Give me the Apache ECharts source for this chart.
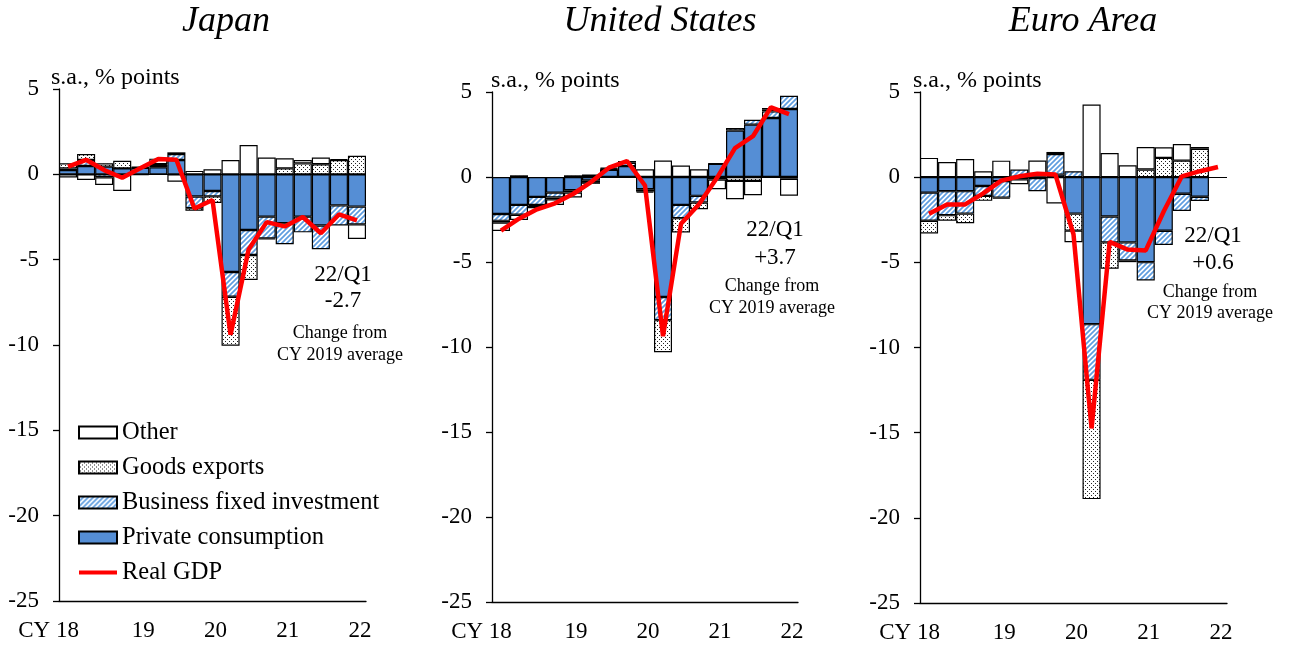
<!DOCTYPE html>
<html><head><meta charset="utf-8">
<script src="https://cdn.jsdelivr.net/npm/echarts@6/dist/echarts.min.js"></script>
<style>html,body{margin:0;padding:0;background:#fff}#c{width:1290px;height:648px}</style>
</head><body><div id="c"></div>
<script>
// ---------- DATA ----------
const quarters = ['18Q1','18Q2','18Q3','18Q4','19Q1','19Q2','19Q3','19Q4','20Q1','20Q2','20Q3','20Q4','21Q1','21Q2','21Q3','21Q4','22Q1'];
const yearLabels = ['CY 18','19','20','21','22'];   // shown at each Q1
const yTicks = [5, 0, -5, -10, -15, -20, -25];

// Japan
const jpConsumption = [0.25, 0.49, 0.45, 0.35, 0.38, 0.41, 0.84, -1.3, -0.98, -5.72, -3.26, -2.48, -2.87, -2.48, -3.0, -1.82, -1.89];
const jpInvestment  = [0.1, 0.35, -0.17, 0.0, 0.03, 0.14, 0.35, -0.68, -0.31, -1.45, -1.47, -1.27, -1.23, -0.92, -1.39, -1.18, -1.04];
const jpExports     = [0.3, 0.35, 0.2, 0.45, 0.04, 0.05, 0.1, -0.16, -0.39, -2.87, -1.46, -0.06, 0.35, 0.64, 0.59, 0.84, 1.09];
const jpOther       = [-0.18, -0.33, -0.45, -0.98, -0.05, 0.32, -0.43, 0.2, 0.3, 0.84, 1.72, 0.98, 0.59, 0.2, 0.39, 0.04, -0.86];
const jpGDP         = [0.45, 0.85, 0.25, -0.2, 0.35, 0.9, 0.85, -2.0, -1.5, -9.4, -4.4, -2.8, -3.05, -2.5, -3.45, -2.35, -2.7];

// United States
const usConsumption = [-2.18, -1.64, -1.17, -0.92, -0.78, -0.2, 0.42, 0.64, -0.72, -7.06, -1.64, -1.11, 0.78, 2.73, 3.08, 3.47, 4.0];
const usInvestment  = [-0.4, -0.58, -0.47, -0.29, -0.14, -0.1, 0.03, 0.2, -0.14, -1.36, -0.78, -0.39, 0.02, 0.15, 0.29, 0.39, 0.78];
const usExports     = [-0.1, 0.1, -0.05, -0.1, 0.1, -0.1, 0.05, -0.02, -0.06, -1.89, -0.84, -0.39, -0.15, -0.23, -0.23, 0.1, -0.1];
const usOther       = [-0.5, -0.31, -0.15, -0.33, -0.29, 0.15, 0.05, 0.1, 0.45, 0.97, 0.68, 0.45, -0.57, -1.08, -0.84, 0.1, -1.0];
const usGDP         = [-3.15, -2.45, -1.9, -1.55, -1.0, -0.3, 0.55, 0.94, -0.5, -9.36, -2.75, -1.6, -0.05, 1.7, 2.4, 4.1, 3.7];

// Euro Area
const euConsumption = [-0.91, -0.82, -0.82, -0.52, -0.23, 0.02, -0.05, 0.15, -2.14, -8.63, -2.31, -3.83, -4.99, -3.15, -0.97, -1.15, null];
const euInvestment  = [-1.65, -1.41, -1.32, -0.58, -0.97, 0.43, -0.77, 1.21, 0.35, -3.27, -1.52, -1.06, -1.07, -0.83, -1.01, -0.25, null];
const euExports     = [-0.74, -0.33, -0.56, -0.29, -0.05, -0.12, 0.05, 0.12, -1.0, -7.0, -1.55, -0.1, 0.45, 1.13, 0.97, 1.67, null];
const euOther       = [1.13, 0.89, 1.07, 0.35, 0.97, -0.3, 0.93, -1.55, -0.68, 4.27, 1.42, 0.7, 1.32, 0.62, 0.97, 0.1, null];
const euGDP         = [-2.15, -1.6, -1.6, -0.95, -0.2, 0.05, 0.2, 0.15, -3.35, -14.75, -3.8, -4.25, -4.3, -2.0, 0.05, 0.35, 0.6];

const panelTitles = ['Japan', 'United States', 'Euro Area'];
const latestLabels = [['22/Q1', '-2.7'], ['22/Q1', '+3.7'], ['22/Q1', '+0.6']];
const noteLines = ['Change from', 'CY 2019 average'];
const unitLabel = 's.a., % points';
const seriesNames = ['Private consumption', 'Business fixed investment', 'Goods exports', 'Other', 'Real GDP'];
const legendOrder = ['Other', 'Goods exports', 'Business fixed investment', 'Private consumption', 'Real GDP'];

// ---------- STYLE ----------
const FONT = '"Liberation Serif", "Times New Roman", serif';
function makeHatch() {
  const s = 5, c = document.createElement('canvas'); c.width = c.height = s;
  const g = c.getContext('2d');
  g.fillStyle = '#ffffff'; g.fillRect(0, 0, s, s);
  g.strokeStyle = '#5f9de0'; g.lineWidth = 1.7; g.beginPath();
  for (const k of [0, s, 2 * s]) { g.moveTo(k + 1, -1); g.lineTo(-1, k + 1); }
  g.stroke();
  return c;
}
function makeDots() {
  const s = 4, c = document.createElement('canvas'); c.width = c.height = s;
  const g = c.getContext('2d');
  g.fillStyle = '#ffffff'; g.fillRect(0, 0, s, s);
  g.fillStyle = '#222'; g.fillRect(1, 1, 1, 1); g.fillRect(3, 3, 1, 1);
  return c;
}
const colPC = '#558ed5';
const colBFI = { image: makeHatch(), repeat: 'repeat' };
const colGE = { image: makeDots(), repeat: 'repeat' };
const colOther = '#ffffff';

const grids = [
  { left: 59, top: 89, width: 307, height: 512 },
  { left: 492, top: 92, width: 306, height: 510 },
  { left: 920, top: 92, width: 307, height: 511 }
];
const panels = [
  [jpConsumption, jpInvestment, jpExports, jpOther, jpGDP],
  [usConsumption, usInvestment, usExports, usOther, usGDP],
  [euConsumption, euInvestment, euExports, euOther, euGDP]
];

const xAxes = [], yAxes = [], series = [];
grids.forEach((g, i) => {
  xAxes.push({
    type: 'category', gridIndex: i, data: quarters, boundaryGap: true,
    axisLine: { onZero: false, lineStyle: { color: '#000', width: 1.3 } },
    axisTick: { inside: true, length: 6, interval: (idx) => idx % 4 === 0, lineStyle: { color: '#000', width: 1.3 } },
    axisLabel: {
      interval: (idx) => idx % 4 === 0, margin: 18, color: '#000', fontFamily: FONT, fontSize: 23,
      padding: [0, 0, 0, 6],
      formatter: (v, idx) => idx === 0 ? '{a|' + yearLabels[0].split(' ')[0] + ' }{a|' + yearLabels[0].split(' ')[1] + '}{p|}' : '{a|' + yearLabels[idx / 4] + '}',
      rich: { a: { fontFamily: FONT, fontSize: 23, color: '#000' }, p: { width: 45 } }
    },
    splitLine: { show: false }
  });
  yAxes.push({
    type: 'value', gridIndex: i, min: yTicks[yTicks.length - 1], max: yTicks[0], interval: 5,
    axisLine: { show: true, onZero: false, lineStyle: { color: '#000', width: 1.3 } },
    axisTick: { show: true, inside: false, length: 6, lineStyle: { color: '#000', width: 1.3 } },
    axisLabel: { color: '#000', fontFamily: FONT, fontSize: 23, margin: 20, padding: [2, 0, 0, 0] },
    splitLine: { show: false }
  });
  const d = panels[i];
  const colors = [colPC, colBFI, colGE, colOther];
  for (let k = 0; k < 4; k++) {
    series.push({
      name: seriesNames[k], type: 'bar', stack: 'p' + i, xAxisIndex: i, yAxisIndex: i,
      data: d[k], barCategoryGap: '0%',
      itemStyle: { color: colors[k], borderColor: '#000', borderWidth: 1.2 },
      emphasis: { disabled: true }
    });
  }
  series.push({
    name: seriesNames[4], type: 'line', xAxisIndex: i, yAxisIndex: i, data: d[4],
    symbol: 'none', z: 5, lineStyle: { color: '#ff0000', width: 4.5 }, itemStyle: { color: '#ff0000' },
    markLine: {
      silent: true, symbol: ['none', 'none'], label: { show: false },
      lineStyle: { color: '#000', width: 1.2, type: 'solid' }, data: [{ yAxis: 0 }], animation: false
    }
  });
});

// text graphics
const graphics = [];
const titleX = [226, 660, 1083];
const unitPos = [[51, 78], [491, 81], [913, 81]];
const annX = [343, 775, 1213];
const annY = [[275, 301, 333, 355], [230, 258, 286, 308], [236, 263, 292, 313]];
for (let i = 0; i < 3; i++) {
  graphics.push({ type: 'text', style: { text: panelTitles[i], x: titleX[i], y: 22, align: 'center', verticalAlign: 'middle', font: 'italic 36px ' + FONT, fill: '#000' } });
  graphics.push({ type: 'text', style: { text: unitLabel, x: unitPos[i][0], y: unitPos[i][1], align: 'left', verticalAlign: 'middle', font: '24px ' + FONT, fill: '#000' } });
  graphics.push({ type: 'text', style: { text: latestLabels[i][0], x: annX[i], y: annY[i][0], align: 'center', verticalAlign: 'middle', font: '23px ' + FONT, fill: '#000' } });
  graphics.push({ type: 'text', style: { text: latestLabels[i][1], x: annX[i], y: annY[i][1], align: 'center', verticalAlign: 'middle', font: '23px ' + FONT, fill: '#000' } });
  graphics.push({ type: 'text', style: { text: noteLines[0], x: annX[i] - 3, y: annY[i][2], align: 'center', verticalAlign: 'middle', font: '18px ' + FONT, fill: '#000' } });
  graphics.push({ type: 'text', style: { text: noteLines[1], x: annX[i] - 3, y: annY[i][3], align: 'center', verticalAlign: 'middle', font: '18px ' + FONT, fill: '#000' } });
}

const chart = echarts.init(document.getElementById('c'), null, { renderer: 'canvas' });
chart.setOption({
  animation: false,
  backgroundColor: '#fff',
  grid: grids,
  xAxis: xAxes,
  yAxis: yAxes,
  legend: {
    data: legendOrder.map(n => n === 'Real GDP'
      ? { name: n, icon: 'path://M0,0L40,0L40,4L0,4Z', itemStyle: { color: '#ff0000', borderWidth: 0 } }
      : { name: n, icon: 'rect' }),
    orient: 'vertical', left: 78, top: 420, itemGap: 10, padding: 0,
    itemWidth: 38, itemHeight: 12, selectedMode: false,
    textStyle: { fontFamily: FONT, fontSize: 24.5, color: '#000', lineHeight: 23 }
  },
  graphic: graphics,
  series: series
});
</script></body></html>
